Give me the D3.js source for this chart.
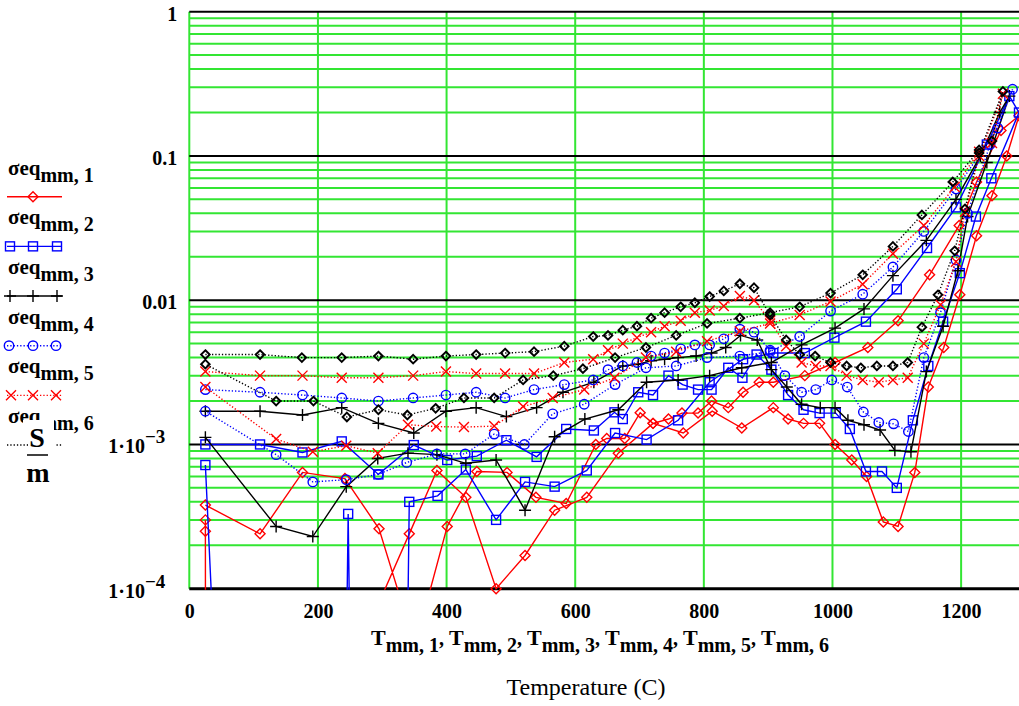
<!DOCTYPE html>
<html><head><meta charset="utf-8">
<script src="https://cdn.jsdelivr.net/npm/d3@7"></script>
<style>
body{margin:0;background:#fff;}
svg{display:block;}
text{font-family:"Liberation Serif","Times New Roman",serif;}
</style></head><body>
<svg id="c" width="1019" height="706"></svg>
<script>
const xTicks=[0,200,400,600,800,1000,1200];
const yTicks=[1e-4,1e-3,1e-2,1e-1,1];
const yTickBase=["1·10","1·10","0.01","0.1","1"];
const yTickSup=["−4","−3","","",""];
const seriesNames=["1","2","3","4","5","6"];

const t1=[25,110,176,242,295,351,401,447,494,539,586,632,649,677,701,721,745,766,791,812,838,861,886,908,957,1004,1055,1102,1151,1197,1224,1262,1290,1271,1248,1224,1198,1173,1149,1128,1102,1079,1053,1030,1004,980,955,931,908,859,813,768,721,667,618,568,522,477,430,385,342,300,28,25,25];
const s1=[0.00038,0.00024,0.00064,0.00058,0.00026,0.00004,0.00027,0.00065,0.00064,0.00043,0.00039,0.0010,0.0011,0.0011,0.00166,0.0014,0.0015,0.00165,0.00165,0.0020,0.0018,0.0023,0.0027,0.0027,0.0030,0.0037,0.0047,0.0072,0.015,0.033,0.066,0.15,0.19,0.10,0.053,0.028,0.0109,0.0047,0.0025,0.00064,0.00027,0.00029,0.0006,0.00078,0.0010,0.0014,0.0014,0.0015,0.0018,0.0013,0.0017,0.0012,0.0014,0.00087,0.00043,0.00035,0.00017,0.0001,0.00043,0.00066,0.00024,0.00009,1e-20,0.00025,0.0003];

const t2=[25,110,176,237,294,349,401,447,493,540,586,629,661,674,698,721,745,767,791,812,838,860,882,905,931,955,980,1005,1027,1052,1077,1100,1125,1149,1172,1198,1223,1247,1290,1275,1240,1192,1147,1100,1052,1003,957,908,861,809,760,711,662,618,568,522,477,430,386,342,295,247,200,25];
const s2=[0.0010,0.0010,0.00088,0.00105,0.00062,0.00099,0.00078,0.00083,0.00107,0.00082,0.00128,0.00125,0.00167,0.0015,0.0023,0.0022,0.0030,0.0026,0.0024,0.0024,0.0034,0.0029,0.0042,0.0033,0.0022,0.00174,0.00165,0.00165,0.00128,0.00065,0.00065,0.0005,0.00147,0.0035,0.0071,0.0154,0.038,0.07,0.2,0.26,0.12,0.044,0.023,0.0119,0.0071,0.0055,0.0043,0.0043,0.0039,0.0027,0.00147,0.00108,0.0012,0.00066,0.00051,0.00055,0.0003,0.00067,0.00044,0.0004,1e-20,0.00033,1e-20,0.00072];

const t3=[25,110,176,237,294,349,399,446,493,540,581,629,674,698,718,739,760,788,812,834,857,883,905,929,952,981,1004,1024,1049,1074,1097,1122,1146,1172,1195,1210,1240,1275,1260,1230,1192,1146,1094,1049,1004,952,905,859,809,760,711,667,615,568,522,477,430,385,340,293,244,192,135,25];
const s3=[0.0017,0.0017,0.0016,0.0018,0.0014,0.0012,0.0017,0.0018,0.00156,0.0018,0.0023,0.0027,0.0035,0.0036,0.0038,0.0039,0.0040,0.0041,0.0043,0.0047,0.0057,0.0053,0.0033,0.0025,0.0019,0.0018,0.0018,0.00147,0.00137,0.00126,0.00091,0.00089,0.0032,0.0066,0.016,0.038,0.09,0.26,0.2,0.1,0.05,0.026,0.0148,0.0087,0.0064,0.0049,0.0037,0.0034,0.0030,0.0028,0.0027,0.00174,0.0015,0.00113,0.00035,0.00078,0.00074,0.00085,0.00087,0.0008,0.00051,0.00023,0.00027,0.00112];

const t4=[25,110,176,237,294,348,399,446,491,536,583,628,651,674,696,718,739,764,786,809,831,856,878,903,926,952,974,999,1023,1048,1072,1095,1118,1142,1168,1192,1210,1245,1280,1257,1192,1142,1094,1047,997,949,903,856,805,757,710,662,614,565,521,474,429,385,338,294,244,192,135,25];
const s4=[0.0024,0.0023,0.0022,0.0021,0.0020,0.0021,0.0022,0.0023,0.0021,0.0024,0.0026,0.0028,0.0033,0.0035,0.0037,0.0041,0.0043,0.0046,0.0049,0.0049,0.0054,0.0063,0.0060,0.0045,0.0030,0.0023,0.0024,0.0028,0.0025,0.00168,0.00142,0.00139,0.00123,0.0040,0.0082,0.019,0.04,0.12,0.29,0.156,0.059,0.03,0.017,0.011,0.0084,0.0056,0.0044,0.0041,0.0040,0.0035,0.0034,0.0026,0.0019,0.00163,0.0010,0.00118,0.00086,0.00086,0.00075,0.00062,0.00057,0.00055,0.00085,0.0017];

const t5=[25,110,176,237,294,348,399,446,491,536,583,628,651,674,696,718,739,764,786,809,831,856,878,903,928,952,974,997,1022,1047,1072,1094,1117,1142,1168,1192,1206,1228,1265,1248,1228,1190,1142,1094,1047,997,949,903,856,805,757,710,661,614,565,519,474,427,384,340,293,244,192,135,25];
const s5=[0.0032,0.0030,0.0030,0.0029,0.0029,0.0030,0.0032,0.0031,0.0031,0.0031,0.0037,0.0039,0.0045,0.0050,0.0055,0.0060,0.0066,0.0072,0.0082,0.0085,0.0091,0.0107,0.0100,0.0072,0.0048,0.0037,0.0035,0.0035,0.0030,0.0028,0.0027,0.0028,0.0029,0.0050,0.0093,0.0185,0.041,0.10,0.27,0.123,0.107,0.061,0.033,0.021,0.0129,0.0098,0.0079,0.0069,0.0061,0.0052,0.0044,0.0040,0.0029,0.0024,0.0021,0.00183,0.00134,0.00132,0.00133,0.00137,0.00087,0.00098,0.00089,0.00109,0.0025];

const t6=[25,110,175,237,294,348,399,446,491,536,583,628,651,674,696,718,739,764,786,809,831,856,878,903,928,949,973,997,1022,1044,1069,1094,1117,1139,1164,1190,1206,1228,1265,1248,1228,1187,1139,1094,1047,997,949,903,856,805,757,710,662,612,566,519,474,427,383,339,294,245,193,135,25];
const s6=[0.0042,0.0042,0.0040,0.0040,0.0041,0.0039,0.0041,0.0042,0.0043,0.0044,0.0048,0.0056,0.0057,0.0062,0.0066,0.0075,0.0082,0.0090,0.0096,0.0106,0.0116,0.0130,0.0122,0.0079,0.0053,0.0042,0.0041,0.0037,0.0035,0.0034,0.0035,0.0035,0.0037,0.0065,0.0109,0.022,0.043,0.105,0.28,0.127,0.11,0.066,0.039,0.0236,0.015,0.0112,0.0090,0.0082,0.0075,0.0069,0.0057,0.0047,0.0040,0.00335,0.0030,0.0028,0.0021,0.0021,0.00178,0.0016,0.00174,0.00155,0.0020,0.0020,0.0036];

const temps=[t1,t2,t3,t4,t5,t6];
const vals=[s1,s2,s3,s4,s5,s6];

const styles=[
 {c:"#ff0000",dash:null,m:"diamond",sz:5,sw:1.4,leg:[33]},
 {c:"#0000ff",dash:null,m:"square",sz:4.5,sw:1.4,leg:[10,33,57]},
 {c:"#000000",dash:null,m:"plus",sz:6,sw:1.4,leg:[10,33,57]},
 {c:"#0000ff",dash:"1.3,2",m:"circle",sz:4.7,sw:1.4,leg:[9,33,56]},
 {c:"#ff0000",dash:"1.3,2",m:"x",sz:5,sw:1.4,leg:[11,33,56]},
 {c:"#000000",dash:"1.3,2",m:"diamond",sz:4.3,sw:1.9,leg:[33]}
];

const svg=d3.select("#c");
const L=189.3,R=1019,T=11.7,B=588.7;
const x=d3.scaleLinear().domain([0,1290]).range([L,R]);
const y=d3.scaleLog().domain([1e-4,1]).range([B,T]);

// grid
const minor=[];
for(let e=-4;e<0;e++)for(let k=2;k<=9;k++)minor.push(k*Math.pow(10,e));
const grid=svg.append("g");
grid.selectAll("line.mi").data(minor).join("line").attr("class","mi")
 .attr("x1",L).attr("x2",R).attr("y1",d=>y(d)).attr("y2",d=>y(d))
 .attr("stroke","#33e633").attr("stroke-width",2);
grid.selectAll("line.vx").data(xTicks).join("line").attr("class","vx")
 .attr("x1",d=>x(d)).attr("x2",d=>x(d)).attr("y1",T).attr("y2",B)
 .attr("stroke","#33e633").attr("stroke-width",2);
grid.selectAll("line.ma").data(yTicks).join("line").attr("class","ma")
 .attr("x1",L).attr("x2",R).attr("y1",d=>y(d)).attr("y2",d=>y(d))
 .attr("stroke","#000").attr("stroke-width",d=>d===1e-4?3:2);

// axes labels
const xa=svg.append("g").attr("transform",`translate(0,${B})`)
 .call(d3.axisBottom(x).tickValues(xTicks).tickSize(0).tickPadding(15).tickFormat(d3.format("d")));
xa.select(".domain").remove();
xa.selectAll("text").attr("font-family","Liberation Serif, serif").attr("font-size",20).attr("font-weight","bold").attr("fill","#000");

const ya=svg.append("g").attr("transform",`translate(${L},0)`)
 .call(d3.axisLeft(y).tickValues(yTicks).tickSize(0).tickPadding(12));
ya.select(".domain").remove();
ya.selectAll("text").each(function(d,i){
  const t=d3.select(this);
  t.text(null).attr("font-family","Liberation Serif, serif").attr("font-size",20)
   .attr("font-weight","bold").attr("fill","#000").attr("dy","0.42em");
  t.append("tspan").text(yTickBase[i]);
  if(yTickSup[i]){t.attr("x",-24);t.append("tspan").attr("dy",-10).attr("font-size",19).text(yTickSup[i]);}
});

// data
svg.append("clipPath").attr("id","clp").append("rect").attr("x",L-1).attr("y",0).attr("width",R-L+2).attr("height",B+1);
const line=d3.line().x(d=>x(d[0])).y(d=>y(d[1]));

function marker(g,type,cx,cy,st){
  const s=st.sz;
  if(type==="diamond"){
    g.append("path").attr("d",`M${cx},${cy-s}L${cx+s},${cy}L${cx},${cy+s}L${cx-s},${cy}Z`)
     .attr("fill","none").attr("stroke",st.c).attr("stroke-width",st.sw);
  }else if(type==="square"){
    g.append("rect").attr("x",cx-s).attr("y",cy-s).attr("width",2*s).attr("height",2*s)
     .attr("fill","none").attr("stroke",st.c).attr("stroke-width",st.sw);
  }else if(type==="circle"){
    g.append("circle").attr("cx",cx).attr("cy",cy).attr("r",s)
     .attr("fill","none").attr("stroke",st.c).attr("stroke-width",st.sw);
  }else if(type==="plus"){
    g.append("path").attr("d",`M${cx-s},${cy}H${cx+s}M${cx},${cy-s}V${cy+s}`)
     .attr("stroke",st.c).attr("stroke-width",st.sw);
  }else if(type==="x"){
    g.append("path").attr("d",`M${cx-s},${cy-s}L${cx+s},${cy+s}M${cx+s},${cy-s}L${cx-s},${cy+s}`)
     .attr("stroke",st.c).attr("stroke-width",st.sw);
  }
}

temps.forEach((tt,i)=>{
  const st=styles[i];
  const pts=tt.map((t,j)=>[t,vals[i][j]]);
  const g=svg.append("g");
  g.append("path").attr("d",line(pts)).attr("fill","none").attr("stroke",st.c)
   .attr("stroke-width",1.4).attr("stroke-dasharray",st.dash).attr("clip-path","url(#clp)");
  pts.filter(p=>p[1]>=0.99e-4&&p[1]<=1).forEach(p=>marker(g,st.m,x(p[0]),y(p[1]),st));
});

// legend
const legY0=196.7,legDY=49.66;
seriesNames.forEach((n,i)=>{
  const ly=legY0+i*legDY, st=styles[i];
  const t=svg.append("text").attr("x",8).attr("y",ly-22).attr("font-weight","bold");
  t.append("tspan").attr("font-size",21).text("σeq");
  t.append("tspan").attr("dy",7).attr("font-size",20).text("mm, "+n);
  const g=svg.append("g");
  g.append("line").attr("x1",7).attr("x2",62).attr("y1",ly).attr("y2",ly)
   .attr("stroke",st.c).attr("stroke-width",1.4).attr("stroke-dasharray",st.dash);
  st.leg.forEach(cx=>marker(g,st.m,cx,ly,st));
});

// y axis unit label (drawn over the last legend entry, as in the original)
svg.append("rect").attr("x",23).attr("y",420).attr("width",31).attr("height",22).attr("fill","#fff");
svg.append("rect").attr("x",28).attr("y",442).attr("width",27).attr("height",46).attr("fill","#fff");
svg.append("text").attr("x",37).attr("y",447).attr("text-anchor","middle").attr("font-size",28).attr("font-weight","bold").text("S");
svg.append("line").attr("x1",27).attr("x2",48).attr("y1",455).attr("y2",455).attr("stroke","#000").attr("stroke-width",1.5);
svg.append("text").attr("x",38).attr("y",482).attr("text-anchor","middle").attr("font-size",28).attr("font-weight","bold").text("m");

// x axis titles
const xt=svg.append("text").attr("x",600).attr("y",645).attr("text-anchor","middle").attr("font-weight","bold").attr("font-size",22);
seriesNames.forEach((n,i)=>{
  xt.append("tspan").attr("font-size",22).text("T");
  xt.append("tspan").attr("dy",7).attr("font-size",20).text("mm, "+n);
  if(i<seriesNames.length-1) xt.append("tspan").attr("dy",-7).attr("font-size",20).text(", ");
});
svg.append("text").attr("x",586).attr("y",695).attr("text-anchor","middle").attr("font-size",24).text("Temperature (C)");
</script>
</body></html>
